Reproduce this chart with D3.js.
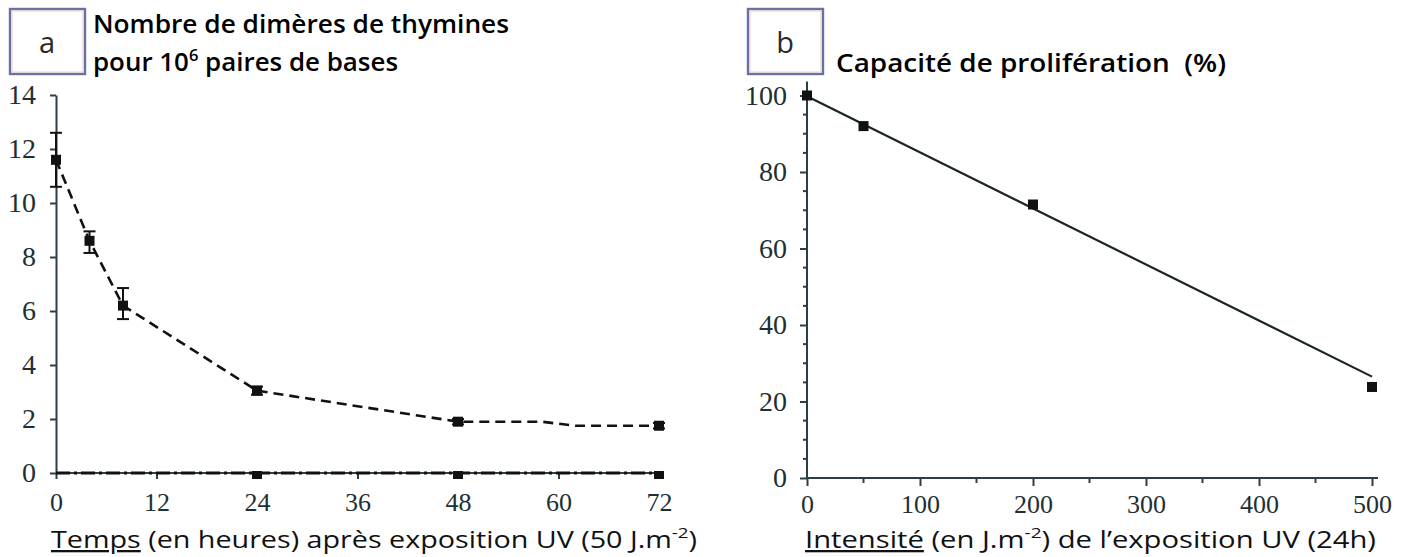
<!DOCTYPE html>
<html>
<head>
<meta charset="utf-8">
<script src="https://cdn.jsdelivr.net/npm/d3@7"></script>
<style>
  body { margin: 0; background: #fff; }
  svg { display: block; }
  .tick text { font-family: "Liberation Serif", "DejaVu Serif", serif; fill: #1e3034; }
  .axis path, .axis line { stroke: #2a4044; stroke-width: 2; }
</style>
</head>
<body>
<script>
// panel a : dimeres de thymines
const timesA = [0, 4, 8, 24, 48, 72]
const dimers = [11.6, 8.6, 6.2, 3.05, 1.9, 1.75]
const errHigh = [12.6, 8.95, 6.85, 3.2, 2.0, 1.85]
const errLow = [10.6, 8.15, 5.7, 2.9, 1.8, 1.65]
// the dashed line bends once between the last two markers
const lineTimesA = [0, 4, 8, 24, 48, 58, 62, 72]
const lineDimers = [11.6, 8.6, 6.2, 3.05, 1.9, 1.9, 1.75, 1.75]
const zeroTimes = [0, 24, 48, 72]
const zeroValues = [0, 0, 0, 0]
const ticksXA = [0, 12, 24, 36, 48, 60, 72]
const ticksYA = [0, 2, 4, 6, 8, 10, 12, 14]

// panel b : capacite de proliferation
const dosesB = [0, 50, 200, 500]
const prolif = [100, 92, 71.5, 23.8]
const fitDoses = [0, 500]
const fitProlif = [99.8, 26.5]
const ticksXB = [0, 100, 200, 300, 400, 500]
const minorXB = [50, 150, 250, 350, 450]
const ticksYB = [0, 20, 40, 60, 80, 100]
const minorYB = d3.range(5, 100, 5).filter(d => d % 20 !== 0)

const w = 1405
const h = 557

const svg = d3.select('body')
  .append('svg')
  .attr('width', w)
  .attr('height', h)

// ---------- panel a ----------
const xa = d3.scaleLinear().domain([0, 72]).range([56, 659])
const ya = d3.scaleLinear().domain([0, 14]).range([473, 95])

svg.append('g')
  .attr('class', 'axis')
  .attr('transform', `translate(0,${ya(0)})`)
  .call(d3.axisBottom(xa).tickValues(ticksXA).tickSize(6).tickSizeOuter(0).tickPadding(14))
  .call(g => g.selectAll('text').attr('font-size', 26))
  .call(g => g.select('.domain').attr('d', `M${xa(0)},0H${xa(72) + 4}`))

svg.append('g')
  .attr('class', 'axis')
  .attr('transform', `translate(${xa(0)},0)`)
  .call(d3.axisLeft(ya).tickValues(ticksYA).tickSize(6).tickSizeOuter(0).tickPadding(14))
  .call(g => g.selectAll('text').attr('font-size', 28))

// zero series, dash-dot along the axis
svg.append('path')
  .datum(zeroTimes.map((t, i) => [t, zeroValues[i]]))
  .attr('fill', 'none')
  .attr('stroke', '#111')
  .attr('stroke-width', 3)
  .attr('stroke-dasharray', '14,4,3,4')
  .attr('d', d3.line().x(d => xa(d[0])).y(d => ya(d[1])))

svg.selectAll('rect.zero')
  .data(zeroTimes.filter(t => t > 0))
  .enter()
  .append('rect')
  .attr('class', 'zero')
  .attr('x', d => xa(d) - 5)
  .attr('y', ya(0) - 2)
  .attr('width', 10)
  .attr('height', 8)
  .attr('fill', '#111')

// dashed decay curve
svg.append('path')
  .datum(lineTimesA.map((t, i) => [t, lineDimers[i]]))
  .attr('fill', 'none')
  .attr('stroke', '#111')
  .attr('stroke-width', 2.6)
  .attr('stroke-dasharray', '10,6')
  .attr('d', d3.line().x(d => xa(d[0])).y(d => ya(d[1])))

const ptsA = timesA.map((t, i) => ({ t, v: dimers[i], hi: errHigh[i], lo: errLow[i] }))

svg.selectAll('line.err')
  .data(ptsA)
  .enter()
  .append('line')
  .attr('class', 'err')
  .attr('x1', d => xa(d.t)).attr('x2', d => xa(d.t))
  .attr('y1', d => ya(d.hi)).attr('y2', d => ya(d.lo))
  .attr('stroke', '#111').attr('stroke-width', 2)

svg.selectAll('line.caphi')
  .data(ptsA)
  .enter()
  .append('line')
  .attr('class', 'caphi')
  .attr('x1', d => xa(d.t) - 6).attr('x2', d => xa(d.t) + 6)
  .attr('y1', d => ya(d.hi)).attr('y2', d => ya(d.hi))
  .attr('stroke', '#111').attr('stroke-width', 2)

svg.selectAll('line.caplo')
  .data(ptsA)
  .enter()
  .append('line')
  .attr('class', 'caplo')
  .attr('x1', d => xa(d.t) - 6).attr('x2', d => xa(d.t) + 6)
  .attr('y1', d => ya(d.lo)).attr('y2', d => ya(d.lo))
  .attr('stroke', '#111').attr('stroke-width', 2)

svg.selectAll('rect.ma')
  .data(ptsA)
  .enter()
  .append('rect')
  .attr('class', 'ma')
  .attr('x', d => xa(d.t) - 5)
  .attr('y', d => ya(d.v) - 5)
  .attr('width', 10)
  .attr('height', 10)
  .attr('fill', '#111')

// ---------- panel b ----------
const xb = d3.scaleLinear().domain([0, 500]).range([807, 1372])
const yb = d3.scaleLinear().domain([0, 100]).range([478, 95.5])

const gxb = svg.append('g')
  .attr('class', 'axis')
  .attr('transform', `translate(0,${yb(0)})`)
gxb.call(d3.axisBottom(xb).tickValues(ticksXB).tickSize(8).tickSizeOuter(0).tickPadding(9))
  .call(g => g.selectAll('text').attr('font-size', 26))
  .call(g => g.select('.domain').attr('d', `M${xb(0)},0H${xb(500) + 6}`))
gxb.selectAll('line.minor')
  .data(minorXB)
  .enter()
  .append('line')
  .attr('class', 'minor')
  .attr('x1', d => xb(d)).attr('x2', d => xb(d))
  .attr('y1', 0).attr('y2', 5)

const gyb = svg.append('g')
  .attr('class', 'axis')
  .attr('transform', `translate(${xb(0)},0)`)
gyb.call(d3.axisLeft(yb).tickValues(ticksYB).tickSize(7).tickSizeOuter(0).tickPadding(13))
  .call(g => g.selectAll('text').attr('font-size', 28))
  .call(g => g.select('.domain').attr('d', `M0,${yb(0)}V${yb(100) - 14}`))
gyb.selectAll('line.minor')
  .data(minorYB)
  .enter()
  .append('line')
  .attr('class', 'minor')
  .attr('x1', 0).attr('x2', -4)
  .attr('y1', d => yb(d)).attr('y2', d => yb(d))

svg.append('path')
  .datum(fitDoses.map((d, i) => [d, fitProlif[i]]))
  .attr('fill', 'none')
  .attr('stroke', '#1a2528')
  .attr('stroke-width', 2.2)
  .attr('d', d3.line().x(d => xb(d[0])).y(d => yb(d[1])))

svg.selectAll('rect.mb')
  .data(dosesB.map((d, i) => [d, prolif[i]]))
  .enter()
  .append('rect')
  .attr('class', 'mb')
  .attr('x', d => xb(d[0]) - 5)
  .attr('y', d => yb(d[1]) - 5)
  .attr('width', 10)
  .attr('height', 10)
  .attr('fill', '#111')

// ---------- titles and letter boxes ----------
const sans = '"Open Sans", "Noto Sans", sans-serif'

function letterBox(x, y, letter) {
  svg.append('rect')
    .attr('x', x).attr('y', y).attr('width', 75).attr('height', 65)
    .attr('fill', '#fff').attr('stroke', '#6473a0').attr('stroke-width', 2.4)
  svg.append('rect')
    .attr('x', x + 2).attr('y', y + 2).attr('width', 71).attr('height', 61)
    .attr('fill', 'none').attr('stroke', '#f0c8c8').attr('stroke-width', 1)
  svg.append('text')
    .attr('x', x + 37).attr('y', y + 44)
    .attr('text-anchor', 'middle')
    .attr('font-family', sans).attr('font-size', 29).attr('fill', '#2a2a2a')
    .text(letter)
}

letterBox(10, 9, 'a')
letterBox(748, 9, 'b')

svg.append('text')
  .attr('x', 93).attr('y', 33)
  .attr('font-family', sans).attr('font-weight', 600).attr('font-size', 25)
  .attr('textLength', 416).attr('lengthAdjust', 'spacingAndGlyphs')
  .text('Nombre de dimères de thymines')

const t2 = svg.append('text')
  .attr('x', 93).attr('y', 71)
  .attr('font-family', sans).attr('font-weight', 600).attr('font-size', 25)
  .attr('textLength', 305).attr('lengthAdjust', 'spacingAndGlyphs')
t2.append('tspan').text('pour 10')
t2.append('tspan').attr('dy', -10).attr('font-size', 16).text('6')
t2.append('tspan').attr('dy', 10).text(' paires de bases')

svg.append('text')
  .attr('x', 836).attr('y', 72)
  .attr('font-family', sans).attr('font-weight', 600).attr('font-size', 25)
  .attr('textLength', 390).attr('lengthAdjust', 'spacingAndGlyphs')
  .attr('xml:space', 'preserve')
  .text('Capacité de prolifération  (%)')

function axisTitle(x, y, len, underlined, rest, sup, tail) {
  const t = svg.append('text')
    .attr('x', x).attr('y', y)
    .attr('font-family', sans).attr('font-size', 23).attr('fill', '#111')
    .attr('textLength', len).attr('lengthAdjust', 'spacingAndGlyphs')
  t.append('tspan').attr('text-decoration', 'underline').text(underlined)
  t.append('tspan').text(rest)
  t.append('tspan').attr('dy', -10).attr('font-size', 15).text(sup)
  t.append('tspan').attr('dy', 10).text(tail)
}

axisTitle(51, 548, 646, 'Temps', ' (en heures) après exposition UV (50 J.m', '-2', ')')
axisTitle(805, 548, 571, 'Intensité', ' (en J.m', '-2', ') de l’exposition UV (24h)')
</script>
</body>
</html>
